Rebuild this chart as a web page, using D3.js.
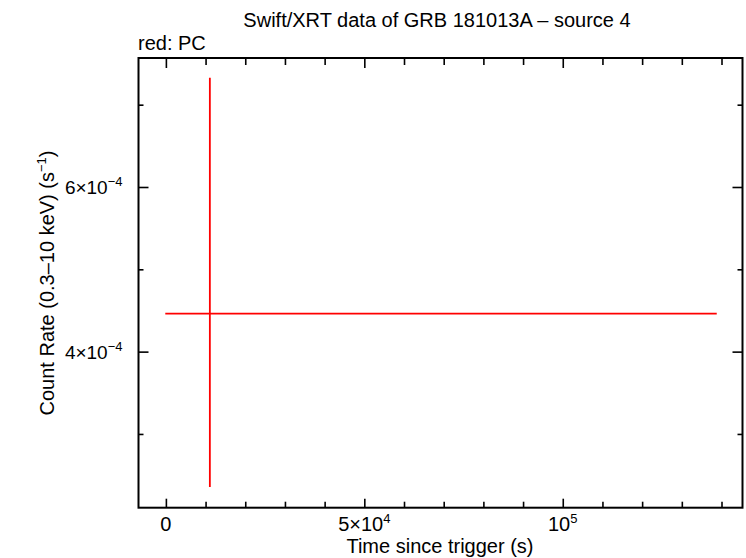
<!DOCTYPE html>
<html>
<head>
<meta charset="utf-8">
<script src="https://cdn.jsdelivr.net/npm/d3@7"></script>
<style>
  body { margin: 0; background: #fff; }
  svg { display: block; font-family: "Liberation Sans", Arial, Helvetica, sans-serif; }
  .tick line { stroke: #000; stroke-width: 1.6; }
</style>
</head>
<body>
<div id="chart"></div>
<script>
// data (one PC point)
var times      = [11080];
var timeStart  = [-150];
var timeStop   = [138800];
var rates      = [4.462e-4];
var rateLow    = [2.356e-4];
var rateHigh   = [7.326e-4];

var xMajor = [0, 5e4, 1e5];
var xMajorLabels = [["0"], ["5\u00d710", "4"], ["10", "5"]];
var yMajor = [4e-4, 6e-4];
var yMajorLabels = [["4\u00d710", "\u22124"], ["6\u00d710", "\u22124"]];
var xMinor = [1e4, 2e4, 3e4, 4e4, 6e4, 7e4, 8e4, 9e4, 1.1e5, 1.2e5, 1.3e5, 1.4e5];
var yMinor = [3e-4, 5e-4, 7e-4];

var W = 746, H = 558;
var margin = {top: 58, right: 3.5, bottom: 50.3, left: 138.5};
var width  = W - margin.left - margin.right;
var height = H - margin.top - margin.bottom;

var x = d3.scaleLinear().domain([-6900, 145290]).range([0, width]);
var y = d3.scaleLinear().domain([2.104e-4, 7.567e-4]).range([height, 0]);

var svg = d3.select("#chart").append("svg")
    .attr("width", W)
    .attr("height", H);

// Title and corner note
svg.append("text")
    .attr("x", 437).attr("y", 27)
    .attr("text-anchor", "middle")
    .attr("font-size", 20)
    .text("Swift/XRT data of GRB 181013A \u2013 source 4");

svg.append("text")
    .attr("x", 138).attr("y", 50)
    .attr("font-size", 20)
    .text("red: PC");

var g = svg.append("g")
    .attr("transform", "translate(" + margin.left + "," + margin.top + ")");

// ticks (inward, mirrored on all four sides)
function ticks(axisFn, values, size, transform) {
  g.append("g")
      .attr("transform", transform || null)
      .call(axisFn.tickValues(values).tickSize(size).tickFormat(""))
      .call(function(s) { s.select(".domain").remove(); });
}
ticks(d3.axisBottom(x), xMajor, -9, "translate(0," + height + ")");
ticks(d3.axisBottom(x), xMinor, -6, "translate(0," + height + ")");
ticks(d3.axisTop(x), xMajor, -10);
ticks(d3.axisTop(x), xMinor, -7);
ticks(d3.axisLeft(y), yMajor, -10);
ticks(d3.axisLeft(y), yMinor, -5);
ticks(d3.axisRight(y), yMajor, -10, "translate(" + width + ",0)");
ticks(d3.axisRight(y), yMinor, -5, "translate(" + width + ",0)");

// frame
g.append("rect")
    .attr("width", width).attr("height", height)
    .attr("fill", "none")
    .attr("stroke", "#000")
    .attr("stroke-width", 2);

// tick labels with superscript exponents
xMajor.forEach(function(v, i) {
  var t = g.append("text")
      .attr("x", x(v)).attr("y", height + 23)
      .attr("text-anchor", "middle")
      .attr("font-size", 20);
  var parts = xMajorLabels[i];
  t.append("tspan").text(parts[0]);
  if (parts[1]) t.append("tspan").attr("dy", -8).attr("font-size", 13).text(parts[1]);
});

yMajor.forEach(function(v, i) {
  var t = g.append("text")
      .attr("x", -16).attr("y", y(v) + 7)
      .attr("text-anchor", "end")
      .attr("font-size", 19);
  var parts = yMajorLabels[i];
  t.append("tspan").text(parts[0]);
  t.append("tspan").attr("dy", -8).attr("font-size", 13).text(parts[1]);
});

// axis titles
svg.append("text")
    .attr("x", 440).attr("y", 553)
    .attr("text-anchor", "middle")
    .attr("font-size", 20)
    .text("Time since trigger (s)");

var yl = svg.append("text")
    .attr("transform", "translate(54," + 283 + ") rotate(-90)")
    .attr("text-anchor", "middle")
    .attr("font-size", 20);
yl.append("tspan").text("Count Rate (0.3\u201310 keV) (s");
yl.append("tspan").attr("dy", -8).attr("font-size", 13).text("\u22121");
yl.append("tspan").attr("dy", 8).text(")");

// error bars
var pts = times.map(function(t, i) {
  return {t: t, t0: timeStart[i], t1: timeStop[i], r: rates[i], lo: rateLow[i], hi: rateHigh[i]};
});

var bars = g.selectAll(".pt").data(pts).enter().append("g").attr("class", "pt");
bars.append("line")
    .attr("x1", function(d) { return x(d.t0); })
    .attr("x2", function(d) { return x(d.t1); })
    .attr("y1", function(d) { return y(d.r); })
    .attr("y2", function(d) { return y(d.r); })
    .attr("stroke", "#f00").attr("stroke-width", 1.8);
bars.append("line")
    .attr("x1", function(d) { return x(d.t); })
    .attr("x2", function(d) { return x(d.t); })
    .attr("y1", function(d) { return y(d.lo); })
    .attr("y2", function(d) { return y(d.hi); })
    .attr("stroke", "#f00").attr("stroke-width", 1.8);
</script>
</body>
</html>
